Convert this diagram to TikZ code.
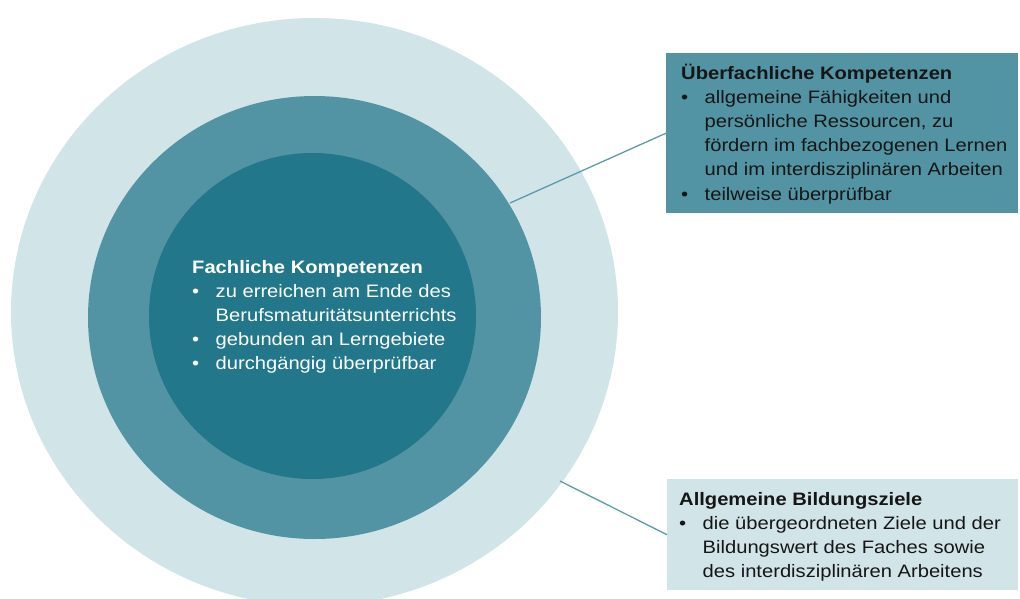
\documentclass[tikz,border=0pt]{standalone}
\usepackage{fontspec}
\setmainfont{Liberation Sans}[FakeStretch=1.12]
\usetikzlibrary{shapes.geometric}
\definecolor{ringlight}{HTML}{D1E4E8}
\definecolor{ringmid}{HTML}{5294A3}
\definecolor{ringdark}{HTML}{22778A}
\definecolor{linkcol}{HTML}{5B9BAB}
\definecolor{boxtext}{HTML}{161616}
\newcommand{\blt}{\makebox[23.5pt][l]{•}}
\newcommand{\ind}{\hspace*{23.5pt}}
\tikzset{
  ring/.style={ellipse, inner sep=0pt, draw=none},
  infobox/.style={rectangle, inner sep=0pt, draw=none, anchor=north west},
  txt/.style={inner sep=0pt, anchor=base west, font=\fontsize{18}{24.2}\selectfont},
  link/.style={draw=linkcol, line width=1.3pt}
}
\begin{document}
\begin{tikzpicture}[x=1pt, y=-1pt]
\useasboundingbox (0,0) rectangle (1020,598);
% rings
\node[ring, fill=ringlight, minimum width=607pt, minimum height=588pt] (outer) at (314.5,312) {};
\node[ring, fill=ringmid, minimum width=453pt, minimum height=443pt] (middle) at (314.5,317.5) {};
\node[ring, fill=ringdark, minimum width=327pt, minimum height=326pt] (inner) at (312.5,316) {};
% center text
\node[txt, text=white] (fk) at (192,273) {\parbox[t]{300pt}{\fontsize{18}{24.2}\selectfont
\textbf{Fachliche Kompetenzen}\\
\blt zu erreichen am Ende des\\
\ind Berufsmaturitätsunterrichts\\
\blt gebunden an Lerngebiete\\
\blt durchgängig überprüfbar}};
% boxes
\node[infobox, fill=ringmid, minimum width=352pt, minimum height=160pt] (ueb) at (666,53) {};
\node[infobox, fill=ringlight, minimum width=351pt, minimum height=111pt] (abz) at (667,479) {};
\node[txt, text=boxtext] (uebt) at (681,79) {\parbox[t]{335pt}{\fontsize{18}{24.2}\selectfont
\textbf{Überfachliche Kompetenzen}\\
\blt allgemeine Fähigkeiten und\\
\ind persönliche Ressourcen, zu\\
\ind fördern im fachbezogenen Lernen\\
\ind und im interdisziplinären Arbeiten\\
\blt teilweise überprüfbar}};
\node[txt, text=boxtext] (abzt) at (679,505) {\parbox[t]{335pt}{\fontsize{18}{24.2}\selectfont
\textbf{Allgemeine Bildungsziele}\\
\blt die übergeordneten Ziele und der\\
\ind Bildungswert des Faches sowie\\
\ind des interdisziplinären Arbeitens}};
% connectors
\coordinate (midpt) at (510,203);
\coordinate (outpt) at (560,481);
\draw[link] (midpt) -- (ueb.west);
\draw[link] (outpt) -- (abz.west);
\end{tikzpicture}
\end{document}
